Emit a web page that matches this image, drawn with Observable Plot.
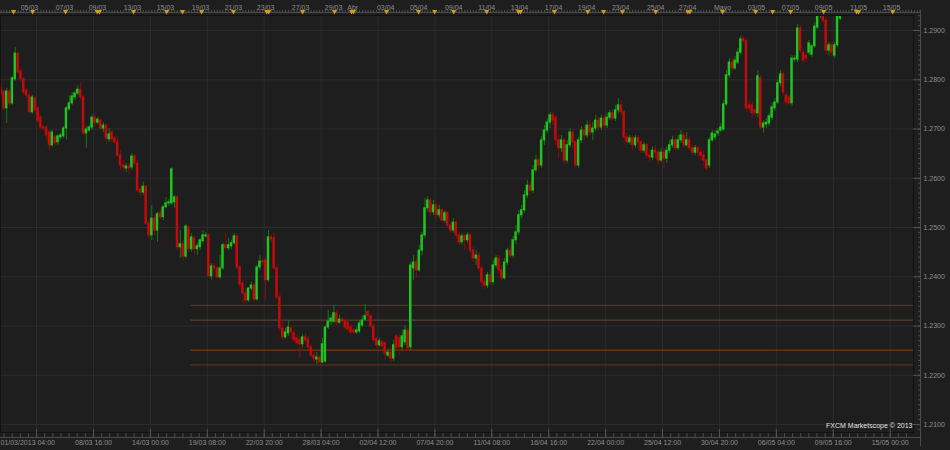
<!DOCTYPE html>
<html><head><meta charset="utf-8">
<script src="https://cdn.jsdelivr.net/npm/d3@7"></script>
<script src="https://cdn.jsdelivr.net/npm/@observablehq/plot@0.6"></script>
<style>
html,body{margin:0;padding:0;background:#1e1e1e;}
#chart{width:950px;height:450px;overflow:hidden;}
</style></head><body><div id="chart"></div>
<script>
// Prices in pips above 1.2000 (4-hour candles)
const openP = [
784,776,742,776,752,801,853,817,801,778,
768,734,762,742,723,703,703,693,667,683,
673,683,685,701,740,752,764,772,780,764,
691,697,703,723,713,717,701,707,679,693,
681,673,646,626,620,624,622,644,630,577,
571,583,508,484,518,494,529,521,541,549,
549,551,561,460,466,441,500,456,478,456,
460,472,482,484,401,421,417,399,417,464,
458,462,468,482,419,386,366,352,376,382,
354,419,431,433,393,480,478,417,358,295,
277,285,295,285,275,271,263,277,273,257,
240,232,236,226,228,297,309,309,326,307,
313,309,307,297,291,287,289,301,313,328,
320,299,273,261,267,265,240,246,234,279,
275,257,267,291,257,417,429,413,453,484,
539,555,531,545,525,535,514,529,504,494,
510,484,470,482,474,484,453,437,443,417,
389,382,403,389,423,437,413,397,429,453,
443,474,490,525,535,565,585,575,616,636,
626,677,697,713,728,723,677,661,677,636,
667,693,673,626,677,697,687,707,693,701,
717,703,721,707,723,732,721,738,748,734,
683,673,681,667,681,673,656,667,646,642,
656,652,636,652,640,656,667,677,661,677,
687,667,677,661,652,661,652,646,636,626,
677,683,691,697,699,750,809,835,823,835,
855,882,878,748,748,738,732,803,703,709,
711,723,742,754,793,811,768,764,752,841,
841,904,855,849,855,851,868,906,931,931,
920,859,870,849,870,924];
const closeP = [
772,742,776,752,803,853,815,801,774,768,
734,764,738,717,703,701,687,667,693,671,
685,687,701,742,752,766,772,780,764,691,
699,703,723,713,719,701,707,681,689,679,
673,646,626,622,624,620,644,630,575,571,
583,508,484,518,494,527,521,541,549,551,
618,561,460,466,441,502,456,480,456,462,
474,484,484,401,421,417,399,417,464,458,
464,468,482,419,384,366,352,376,382,354,
419,431,429,393,480,476,417,358,295,277,
287,297,287,271,265,263,277,271,257,240,
234,236,226,263,297,309,315,326,307,313,
309,297,293,287,287,291,305,311,320,320,
299,271,261,269,259,244,246,234,261,255,
257,279,291,255,423,429,413,453,484,539,
555,531,545,525,535,514,529,504,494,510,
484,470,482,474,484,453,437,443,417,389,
382,403,389,423,437,413,397,429,453,443,
474,490,525,535,565,585,575,616,636,626,
677,697,713,728,717,677,661,677,636,667,
693,673,626,677,697,687,707,693,701,717,
703,721,707,723,732,721,738,748,734,683,
673,681,667,681,673,656,667,646,642,656,
652,636,652,640,656,667,677,661,677,687,
667,677,661,652,661,652,646,636,620,677,
691,689,695,703,750,809,835,823,839,855,
882,878,742,742,732,732,807,703,711,713,
726,744,754,793,811,774,754,752,843,843,
904,859,839,843,874,868,908,935,937,920,
859,870,855,870,929,931];
const highP = [
805,780,782,780,807,866,855,823,805,782,
772,768,766,746,728,707,707,697,697,687,
689,691,705,746,768,774,778,788,795,768,
705,707,728,732,723,721,713,711,701,697,
685,685,656,636,630,630,650,648,636,583,
592,585,514,545,525,531,535,545,561,557,
622,565,565,494,474,506,504,488,482,468,
478,494,490,488,427,427,421,443,468,488,
478,474,488,486,423,391,372,378,389,386,
423,443,437,439,494,484,490,423,366,311,
295,311,299,291,281,277,283,285,279,261,
246,246,240,275,301,332,322,342,330,322,
317,315,311,303,295,297,311,320,344,332,
324,303,277,275,271,269,253,255,271,283,
281,291,301,295,429,443,437,464,490,559,
563,559,555,549,545,539,535,533,510,518,
514,490,488,486,490,488,460,453,449,423,
397,409,413,433,443,443,423,437,458,464,
482,504,535,545,575,596,592,626,646,642,
685,707,721,734,734,728,687,687,681,677,
701,701,677,683,705,707,717,717,713,728,
723,728,728,732,738,738,748,762,758,738,
691,687,687,687,687,677,673,671,656,663,
665,659,661,661,663,677,685,681,687,697,
693,693,683,667,667,667,661,656,640,683,
697,697,701,711,758,819,843,843,847,864,
888,888,884,758,754,744,819,809,717,721,
732,752,762,799,819,815,774,768,849,849,
912,910,859,855,880,872,916,941,945,941,
926,876,876,876,933,945];
const lowP = [
762,738,711,746,748,797,811,795,768,762,
730,730,732,711,697,695,677,656,663,665,
667,679,681,677,736,748,758,768,758,687,
661,693,697,703,709,697,693,667,673,673,
669,642,616,612,612,608,616,624,571,563,
565,504,478,474,482,470,516,514,539,543,
545,539,453,437,433,437,449,449,443,443,
453,468,478,397,393,411,395,395,413,453,
453,456,464,413,378,346,346,348,372,348,
350,413,421,352,389,470,413,352,287,271,
273,279,273,267,261,234,255,267,250,234,
226,222,224,224,224,293,301,305,301,303,
305,291,287,283,283,283,285,297,309,315,
295,267,255,257,253,232,236,226,228,250,
240,250,261,250,250,393,397,409,443,478,
531,523,525,518,518,510,508,498,488,488,
478,464,464,453,468,447,429,423,409,378,
374,376,382,382,417,405,391,393,423,437,
437,466,484,518,529,559,565,569,612,616,
620,667,691,701,707,667,640,652,626,630,
661,656,620,620,671,677,681,687,677,695,
697,697,701,701,717,715,715,732,728,677,
667,667,656,661,656,650,650,640,632,636,
640,626,632,620,630,650,661,656,656,671,
661,663,656,646,646,642,636,626,616,620,
673,677,685,693,695,746,803,815,819,831,
851,872,734,734,723,723,723,697,691,701,
705,717,736,750,786,768,748,746,746,835,
835,853,833,835,849,845,864,902,924,914,
849,849,845,843,866,920];

// Price axis
const priceTicks = [1.21, 1.22, 1.23, 1.24, 1.25, 1.26, 1.27, 1.28, 1.29];
// Horizontal support / resistance levels
const levels = [1.2342, 1.2312, 1.2251, 1.2221];
const levelStartBar = 66.6;

// Time axis (bar index positions)
const bottomLabels = ["01/03/2013 04:00","08/03 16:00","14/03 00:00","19/03 08:00","22/03 20:00","28/03 04:00","02/04 12:00","07/04 20:00","11/04 08:00","16/04 16:00","22/04 00:00","25/04 12:00","30/04 20:00","06/05 04:00","09/05 16:00","15/05 00:00"];
const gridBars = [12.5,32.5,52.5,72.5,92.5,112.5,132.5,152.5,172.5,192.5,212.5,232.5,252.5,272.5,292.5,312.5];
const topLabels = ["05/03","07/03","09/03","13/03","15/03","19/03","21/03","23/03","27/03","29/03","Abr","03/04","05/04","09/04","11/04","13/04","17/04","19/04","23/04","25/04","27/04","Mayo","03/05","07/05","09/05","11/05","15/05"];
const topLabelBars = [10,22.3,33.9,46.2,57.8,70.1,81.7,93,105.3,116.9,123.6,135.2,146.8,159.1,170.7,182.2,194.2,205.8,217.8,230.1,241.3,253.6,265.5,277.5,289.1,301.4,313];
const eventBars = [4.4,11.1,22.7,33.8,34.6,46.6,58.2,63.8,70.5,81.7,93.4,94.1,106,117.2,123.2,123.9,135.5,146.8,152.4,159.1,170.7,181.9,182.6,194.5,206.2,211.8,218.4,230.1,241.4,242.1,253.6,265.2,271.2,277.5,289.1,300.7,301.4,313.4];
const watermark = "FXCM Marketscope © 2013";

const pip = v => 1.2 + v / 10000;
const candles = openP.map((o, i) => ({
  i, o: pip(o), c: pip(closeP[i]), h: pip(highP[i]), l: pip(lowP[i]), up: closeP[i] >= o
}));

const W = 950, H = 450, mT = 15, mB = 18, mR = 37;
const xDom = [-0.18, 320.7];
const yDom = [1.20838, 1.29305];
const textCol = "#8e8e8e";
const gridCol = "#2c2c2c";
const levelCols = ["#6e3519", "#6d4a38", "#8f3d12", "#6a3316"];
const minorBars = d3.range(0, 324, 1);
const minorBottom = d3.range(12.5 - 20, 320, 20 / 7);
const minorPrice = d3.range(1209, 1294, 1).map(v => v / 1000);

const chart = Plot.plot({
  width: W, height: H,
  marginTop: mT, marginBottom: mB, marginLeft: 0, marginRight: mR,
  x: {domain: xDom, axis: null},
  y: {domain: yDom, axis: null},
  color: {type: "identity"},
  style: {background: "#1e1e1e", fontFamily: "'Liberation Sans', Arial, sans-serif", fontSize: "7px", overflow: "visible"},
  marks: [
    Plot.ruleY(priceTicks, {y: d => d, stroke: gridCol}),
    Plot.ruleX(gridBars, {x: d => d, stroke: gridCol}),
    Plot.ruleY(levels, {y: d => d, x1: levelStartBar, x2: xDom[1], stroke: (d, i) => levelCols[i], strokeWidth: 1}),
    Plot.ruleX(candles, {x: "i", y1: "l", y2: "h", stroke: d => d.up ? "#127a12" : "#8a0c0c", strokeWidth: 1, clip: true}),
    Plot.rect(candles, {
      x1: d => d.i - 0.43, x2: d => d.i + 0.43,
      y1: d => Math.min(d.o, d.c), y2: d => Math.max(d.o, d.c),
      fill: d => d.up ? "#1fc41f" : "#c40a0a",
      insetTop: -0.5, insetBottom: -0.5, clip: true
    }),
    Plot.frame({stroke: "#121212"}),
    Plot.ruleX([xDom[1]], {x: d => d, dx: 7, insetTop: -5, insetBottom: -14, stroke: "#4c4c4c"}),
    Plot.tickY(minorPrice, {y: d => d, insetLeft: 918, insetRight: -8, stroke: "#4c4c4c"}),
    Plot.tickY(priceTicks, {y: d => d, insetLeft: 913, insetRight: -8, stroke: "#555"}),
    Plot.text(priceTicks, {y: d => d, text: d => d.toFixed(4), frameAnchor: "right", dx: 10, textAnchor: "start", fill: textCol}),
    Plot.frame({anchor: "top", dy: -3, insetRight: -7, stroke: "#4c4c4c"}),
    Plot.tickX(minorBars, {x: d => d, insetTop: -5, insetBottom: 420, stroke: "#4c4c4c"}),
    Plot.text(topLabels, {x: (d, i) => topLabelBars[i], text: d => d, frameAnchor: "top", dy: -10, fill: textCol}),
    Plot.dot(eventBars, {x: d => d, frameAnchor: "top", dy: -4, symbol: "triangle", r: 1.9, fill: "#d39c1c", rotate: 180}),
    Plot.frame({anchor: "bottom", dy: 5, insetRight: -7, stroke: "#4c4c4c"}),
    Plot.tickX(minorBottom.filter(v => v >= xDom[0]), {x: d => d, insetTop: 418, insetBottom: -5, stroke: "#4c4c4c"}),
    Plot.tickX(gridBars, {x: d => d, insetTop: 414, insetBottom: -5, stroke: "#555"}),
    Plot.text([bottomLabels[0]], {frameAnchor: "bottom-left", dy: 12, text: d => d, textAnchor: "start", fill: textCol}),
    Plot.text(bottomLabels.slice(1), {x: (d, i) => gridBars[i + 1], text: d => d, frameAnchor: "bottom", dy: 12, fill: textCol}),
    Plot.text([watermark], {text: d => d, frameAnchor: "bottom-right", dx: -1, dy: -5, textAnchor: "end", fill: "#e2e2e2"})
  ]
});
document.getElementById("chart").appendChild(chart);
</script>
</body></html>
